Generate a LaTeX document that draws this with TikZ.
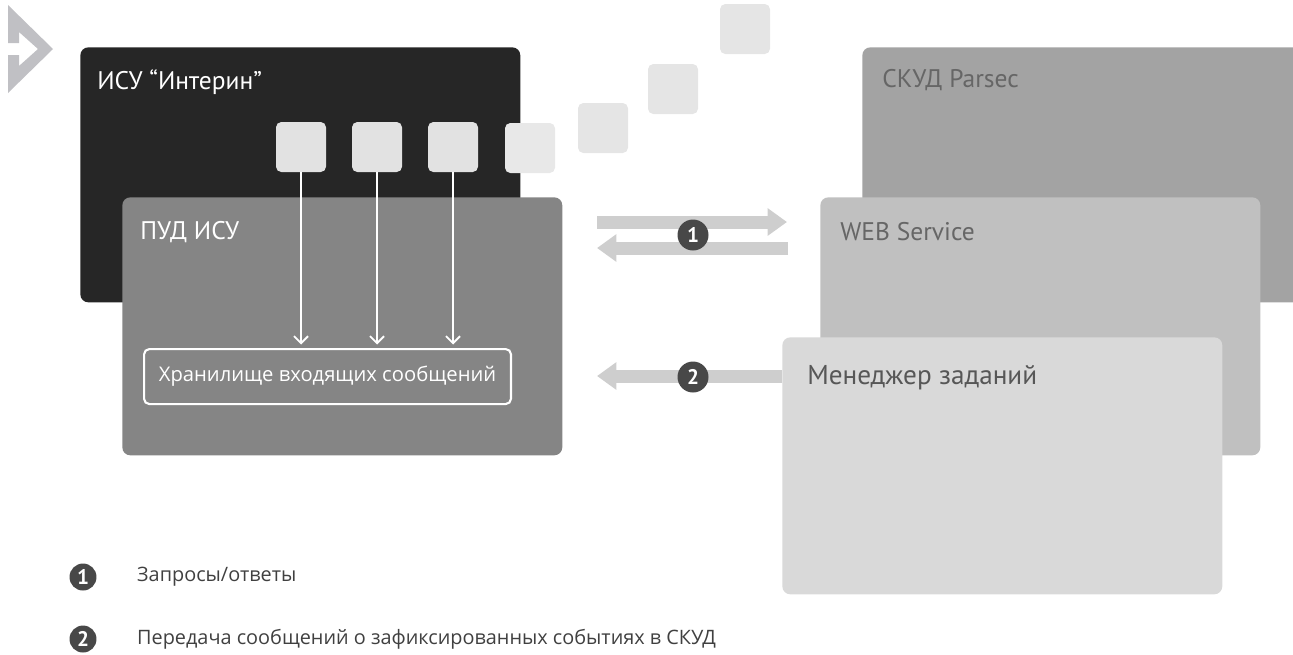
\documentclass[tikz,border=0pt]{standalone}
\usepackage{fontspec}
\setmainfont{PT Sans}
\newfontfamily\legendfont{Open Sans}
\usetikzlibrary{positioning,arrows.meta}
\definecolor{IsuDark}{RGB}{38,38,38}
\definecolor{PudGray}{RGB}{133,133,133}
\definecolor{ParsecGray}{RGB}{163,163,163}
\definecolor{WebGray}{RGB}{192,192,192}
\definecolor{MgrGray}{RGB}{217,217,217}
\definecolor{TileGray}{RGB}{226,226,226}
\definecolor{FlowGray}{RGB}{206,206,206}
\definecolor{TagDark}{RGB}{72,72,72}
\definecolor{LogoGray}{RGB}{192,192,196}
\tikzset{
  panel/.style={rounded corners=4.5pt,anchor=north west,inner sep=0pt,
    minimum width=8.8cm,minimum height=5.1cm},
  title/.style={anchor=base west,inner sep=0pt,font=\fontsize{14.5}{16}\selectfont},
  tile/.style={fill=TileGray,rounded corners=3pt,minimum size=1cm,inner sep=0pt},
  drop/.style={draw=white,line width=1.1pt,shorten >=2pt,
    -{Straight Barb[length=4pt,width=8pt]}},
  flow/.style={draw=FlowGray,line width=7.4pt,-{Triangle[length=11pt,width=15pt]}},
  tag/.style={circle,fill=TagDark,text=white,inner sep=0pt,
    font=\bfseries\fontsize{12}{12}\selectfont},
  key/.style={anchor=west,inner sep=0pt,text=black!75,
    font=\legendfont\fontsize{11.3}{13}\selectfont},
}

\begin{document}
\begin{tikzpicture}[x=0.02cm,y=-0.02cm]
\useasboundingbox (0,0) rectangle (1293,654);
% logo
\fill[LogoGray] (8,5) -- (53,49) -- (8,93) -- (8,55) -- (19,55) -- (19,66)
  -- (38,49) -- (19,32) -- (19,43) -- (8,43) -- cycle;

% left side
\node[panel,fill=IsuDark] (isu) at (80,47) {};
\node[title,text=white] (isut) at ([shift={(0.34cm,-0.84cm)}]isu.north west) {ИСУ “Интерин”};
\node[tile] (t1) at (301,147) {};
\node[tile] (t2) at (377,147) {};
\node[tile] (t3) at (453,147) {};
\node[tile,fill=TileGray!80!white] (t4) at (530,148) {};
\node[tile,fill=TileGray!90!white] (t5) at (603,128) {};
\node[tile,fill=TileGray!90!white] (t6) at (673,89) {};
\node[tile,fill=TileGray!90!white] (t7) at (745,29) {};
\node[panel,fill=PudGray,minimum height=5.16cm] (pud) at (122,197) {};
\node[title,text=white] (pudt) at ([shift={(0.36cm,-0.84cm)}]pud.north west) {ПУД ИСУ};
\node[panel,draw=white,line width=1.2pt,rounded corners=3pt,anchor=north west,
  minimum width=7.34cm,minimum height=1.1cm,text=white,
  font=\legendfont\fontsize{11.5}{13}\selectfont] (store) at (143,348)
  {Хранилище входящих сообщений};
\foreach \t in {t1,t2,t3}
  \draw[drop] (\t.south) -- (\t |- store.north);

% right side
\node[panel,fill=ParsecGray,minimum width=9cm] (parsec) at (862,47) {};
\node[title,text=black!60] (parsect) at ([shift={(0.4cm,-0.8cm)}]parsec.north west) {СКУД Parsec};
\node[panel,fill=WebGray,minimum height=5.16cm] (web) at (820,197) {};
\node[title,text=black!60] (webt) at ([shift={(0.4cm,-0.86cm)}]web.north west) {WEB Service};
\node[panel,fill=MgrGray,minimum height=5.14cm] (mgr) at (782,337) {};
\node[title,text=black!66,font=\fontsize{15.5}{17}\selectfont] (mgrt)
  at ([shift={(0.5cm,-0.94cm)}]mgr.north west) {Менеджер заданий};

% exchange arrows
\coordinate (a1s) at (597,222);
\coordinate (a1e) at (787,222);
\coordinate (b1s) at (788,248);
\coordinate (b1e) at (597,248);
\coordinate (c2e) at (597,376);
\draw[flow] (a1s) -- (a1e);
\draw[flow] (b1s) -- (b1e);
\draw[flow] (mgr.west |- c2e) -- (c2e);
\node[tag,minimum size=0.62cm] (n1) at (693,235) {1};
\node[tag,minimum size=0.62cm] (n2) at (693,377) {2};

% legend
\node[tag,minimum size=0.54cm] (k1) at (83,577) {1};
\node[key,right=0.8cm of k1] (k1t) {Запросы/ответы};
\node[tag,minimum size=0.54cm] (k2) at (83,639) {2};
\node[key,right=0.8cm of k2] (k2t) {Передача сообщений о зафиксированных событиях в СКУД};
\end{tikzpicture}
\end{document}
